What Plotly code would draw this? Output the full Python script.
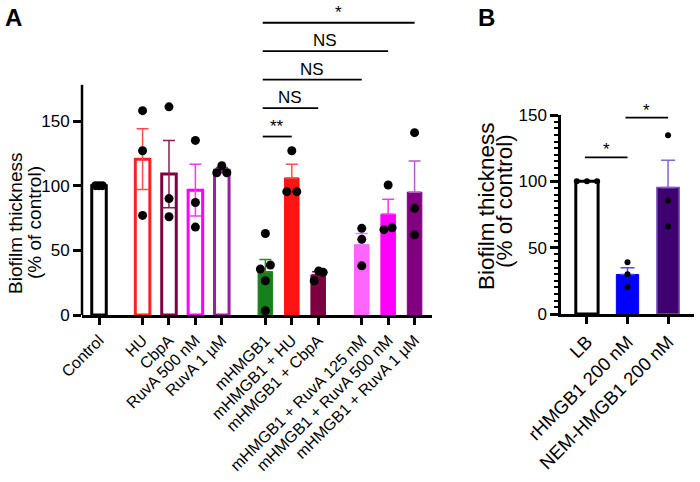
import plotly.graph_objects as go

# ---------------- Panel A data ----------------
cats_a = ["Control", "HU", "CbpA", "RuvA 500 nM", "RuvA 1 µM", "mHMGB1",
          "mHMGB1 + HU", "mHMGB1 + CbpA", "mHMGB1 + RuvA 125 nM",
          "mHMGB1 + RuvA 500 nM", "mHMGB1 + RuvA 1 µM"]
group_a = [0, 1, 1, 1, 1, 2, 2, 2, 3, 3, 3]
mean_a = [100, 120.5, 109, 96.5, 112, 33.5, 106, 31, 54.5, 78, 95]
sem_a = [0, 23.5, 26, 20, 2, 9.5, 10.5, 2.5, 8.5, 11.5, 24]
pts_a = [[100, 100, 100], [158, 127, 77], [161, 90, 76], [135, 87, 68],
         [115.5, 110, 110], [63, 38.7, 35.5, 26.5, 3.3], [127, 95.4, 95.4],
         [34, 33, 26.5], [67, 58.5, 38], [100.5, 66, 67.5], [141, 82.5, 62]]
jit_a = [[-0.13, 0, 0.13], [0, 0, 0], [0, 0, 0], [0, 0, 0], [0, -0.19, 0.19],
         [0, 0.19, -0.19, 0, 0], [0, -0.19, 0.19], [0.02, 0.19, -0.15],
         [0, 0, 0], [0, -0.16, 0.15], [0, 0, 0]]
comps_a = [(5, 6, "**"), (5, 7, "NS"), (5, 8, "NS"), (5, 9, "NS"), (5, 10, "*")]

# ---------------- Panel B data ----------------
cats_b = ["LB", "rHMGB1 200 nM", "NEM-HMGB1 200 nM"]
mean_b = [100, 29.8, 95.4]
sem_b = [0, 5, 20.5]
pts_b = [[100, 100, 100], [39, 30, 20.3], [134.8, 85.5, 66]]
jit_b = [[-0.25, 0, 0.25], [0, 0, 0], [0, 0, 0]]
comps_b = [(0, 1, "*"), (1, 2, "*")]

yticks_a = [0, 50, 100, 150]
yticks_b = [0, 50, 100, 150]
ytitle_lines = ["Biofilm thickness", "(% of control)"]

# ---------------- styles ----------------
FONT = "Liberation Sans, Arial, sans-serif"
fill_a = ["white", "white", "white", "white", "white", "#16801a", "#ff1414",
          "#7d0040", "#ff66ff", "#ff00ff", "#800080"]
line_a = ["black", "#ff2020", "#800040", "#ff00ff", "#9a1f9e", "#16801a",
          "#ff1414", "#7d0040", "#ff66ff", "#ff00ff", "#800080"]
err_a = ["black", "#ff4d4d", "#8a2050", "#ff33ff", "#9a1f9e", "#2a8a2a",
         "#ff5050", "#7d0040", "#ff7aff", "#ff33ff", "#b060c0"]
lw_a = [3, 3, 3, 3, 3, 1, 1, 1, 1, 1, 1]
fill_b = ["white", "#0000ff", "#3f0070"]
line_b = ["black", "#0000ff", "#7a55c0"]
err_b = ["black", "#4d4dff", "#8a63d2"]
lw_b = [3, 1, 1.5]

GAP = 0.65
BARW = 0.55
pos_a = [i + g * GAP for i, g in enumerate(group_a)]
pos_b = list(range(len(cats_b)))

fig = go.Figure()

for i in range(len(cats_a)):
    filled = fill_a[i] != "white"
    fig.add_trace(go.Bar(
        x=[pos_a[i]], y=[mean_a[i]], width=BARW,
        marker=dict(color=fill_a[i], line=dict(color=line_a[i], width=lw_a[i])),
        error_y=dict(type="data", array=[sem_a[i]],
                     arrayminus=[0 if filled else sem_a[i]], symmetric=False,
                     color=err_a[i], thickness=1.5, width=6,
                     visible=sem_a[i] > 0),
        xaxis="x", yaxis="y", showlegend=False, hoverinfo="skip"))

xs, ys = [], []
for i in range(len(cats_a)):
    for v, j in zip(pts_a[i], jit_a[i]):
        xs.append(pos_a[i] + j)
        ys.append(v)
fig.add_trace(go.Scatter(x=xs, y=ys, mode="markers", cliponaxis=False,
                         marker=dict(color="black", size=9),
                         xaxis="x", yaxis="y", showlegend=False, hoverinfo="skip"))

for i in range(len(cats_b)):
    filled = fill_b[i] != "white"
    fig.add_trace(go.Bar(
        x=[pos_b[i]], y=[mean_b[i]], width=BARW,
        marker=dict(color=fill_b[i], line=dict(color=line_b[i], width=lw_b[i])),
        error_y=dict(type="data", array=[sem_b[i]],
                     arrayminus=[0 if filled else sem_b[i]], symmetric=False,
                     color=err_b[i], thickness=1.5, width=7,
                     visible=sem_b[i] > 0),
        xaxis="x2", yaxis="y2", showlegend=False, hoverinfo="skip"))

xs, ys = [], []
for i in range(len(cats_b)):
    for v, j in zip(pts_b[i], jit_b[i]):
        xs.append(pos_b[i] + j)
        ys.append(v)
fig.add_trace(go.Scatter(x=xs, y=ys, mode="markers", cliponaxis=False,
                         marker=dict(color="black", size=6),
                         xaxis="x2", yaxis="y2", showlegend=False, hoverinfo="skip"))

shapes = []
annotations = []

# Panel A left axis line (only up to ~178)
shapes.append(dict(type="line", xref="x domain", yref="y", x0=0, x1=0, y0=0, y1=178,
                   line=dict(color="black", width=2.5)))

# significance brackets panel A
base_a, step_a = 138, 22
for k, (a, b, lab) in enumerate(comps_a):
    yv = base_a + k * step_a
    x0, x1 = pos_a[a] - 0.1, pos_a[b]
    shapes.append(dict(type="line", xref="x", yref="y", x0=x0, x1=x1, y0=yv, y1=yv,
                       line=dict(color="black", width=1.8)))
    annotations.append(dict(x=(x0 + x1) / 2, y=yv, xref="x", yref="y", text=lab,
                            showarrow=False, yanchor="bottom", yshift=-1,
                            font=dict(family=FONT, size=17, color="black")))

# significance brackets panel B
lev_b = [118, 148]
for k, (a, b, lab) in enumerate(comps_b):
    yv = lev_b[k]
    x0, x1 = pos_b[a] - 0.05, pos_b[b]
    shapes.append(dict(type="line", xref="x2", yref="y2", x0=x0, x1=x1, y0=yv, y1=yv,
                       line=dict(color="black", width=1.8)))
    annotations.append(dict(x=(x0 + x1) / 2, y=yv, xref="x2", yref="y2", text=lab,
                            showarrow=False, yanchor="bottom", yshift=-4,
                            font=dict(family=FONT, size=17, color="black")))

# y-axis titles (one annotation per line for tight line spacing)
for txt, xp, yp in zip(ytitle_lines, [15, 34], [223, 223]):
    annotations.append(dict(x=xp / 700, y=1 - yp / 482, xref="paper", yref="paper",
                            text=txt, textangle=-90, showarrow=False,
                            xanchor="center", yanchor="middle",
                            font=dict(family=FONT, size=19, color="black")))
for txt, xp, yp in zip(ytitle_lines, [486, 504], [206, 201]):
    annotations.append(dict(x=xp / 700, y=1 - yp / 482, xref="paper", yref="paper",
                            text=txt, textangle=-90, showarrow=False,
                            xanchor="center", yanchor="middle",
                            font=dict(family=FONT, size=22.5, color="black")))
# panel letters
annotations.append(dict(x=3 / 700, y=1 - 2 / 482, xref="paper", yref="paper", text="<b>A</b>",
                        showarrow=False, xanchor="left", yanchor="top",
                        font=dict(family=FONT, size=24, color="black")))
annotations.append(dict(x=476 / 700, y=1 - 2 / 482, xref="paper", yref="paper", text="<b>B</b>",
                        showarrow=False, xanchor="left", yanchor="top",
                        font=dict(family=FONT, size=24, color="black")))

tickfont = dict(family=FONT, size=17, color="black")
catfont_a = dict(family=FONT, size=16, color="black")
catfont_b = dict(family=FONT, size=18.5, color="black")

fig.update_layout(
    template="none",
    width=700, height=482,
    margin=dict(l=0, r=0, t=0, b=0, autoexpand=False),
    plot_bgcolor="white", paper_bgcolor="white",
    font=dict(family=FONT, color="black"),
    barmode="overlay",
    shapes=shapes, annotations=annotations,
    xaxis=dict(domain=[82 / 700, 432 / 700], range=[-0.644, 12.61], automargin=False,
               tickmode="array", tickvals=pos_a, ticktext=cats_a, tickangle=-45,
               ticks="outside", ticklen=7, tickwidth=2.5, tickcolor="black",
               showline=True, linewidth=2.5, linecolor="black",
               showgrid=False, zeroline=False, tickfont=catfont_a),
    yaxis=dict(domain=[(482 - 315) / 482, (482 - 15) / 482], range=[0, 232], automargin=False,
               tickmode="array", tickvals=yticks_a,
               ticks="outside", ticklen=8, tickwidth=2.5, tickcolor="black",
               showline=False, showgrid=False, zeroline=False, tickfont=tickfont),
    xaxis2=dict(domain=[561 / 700, 694 / 700], range=[-0.64, 2.64], anchor="y2", automargin=False,
                tickmode="array", tickvals=pos_b, ticktext=cats_b, tickangle=-45,
                ticks="outside", ticklen=7, tickwidth=2.5, tickcolor="black",
                showline=True, linewidth=2.5, linecolor="black",
                showgrid=False, zeroline=False, tickfont=catfont_b),
    yaxis2=dict(domain=[(482 - 314) / 482, (482 - 115) / 482], range=[0, 150], anchor="x2",
                automargin=False, tickmode="array", tickvals=yticks_b,
                ticks="outside", ticklen=8, tickwidth=2.5, tickcolor="black",
                minor=dict(dtick=5, ticks="outside", ticklen=4, tickwidth=1.5, tickcolor="black"),
                showline=True, linewidth=2.5, linecolor="black",
                showgrid=False, zeroline=False, tickfont=tickfont),
)

fig.write_html("out.html", config={"displayModeBar": False},
               post_script="document.body.style.margin='0px';")
